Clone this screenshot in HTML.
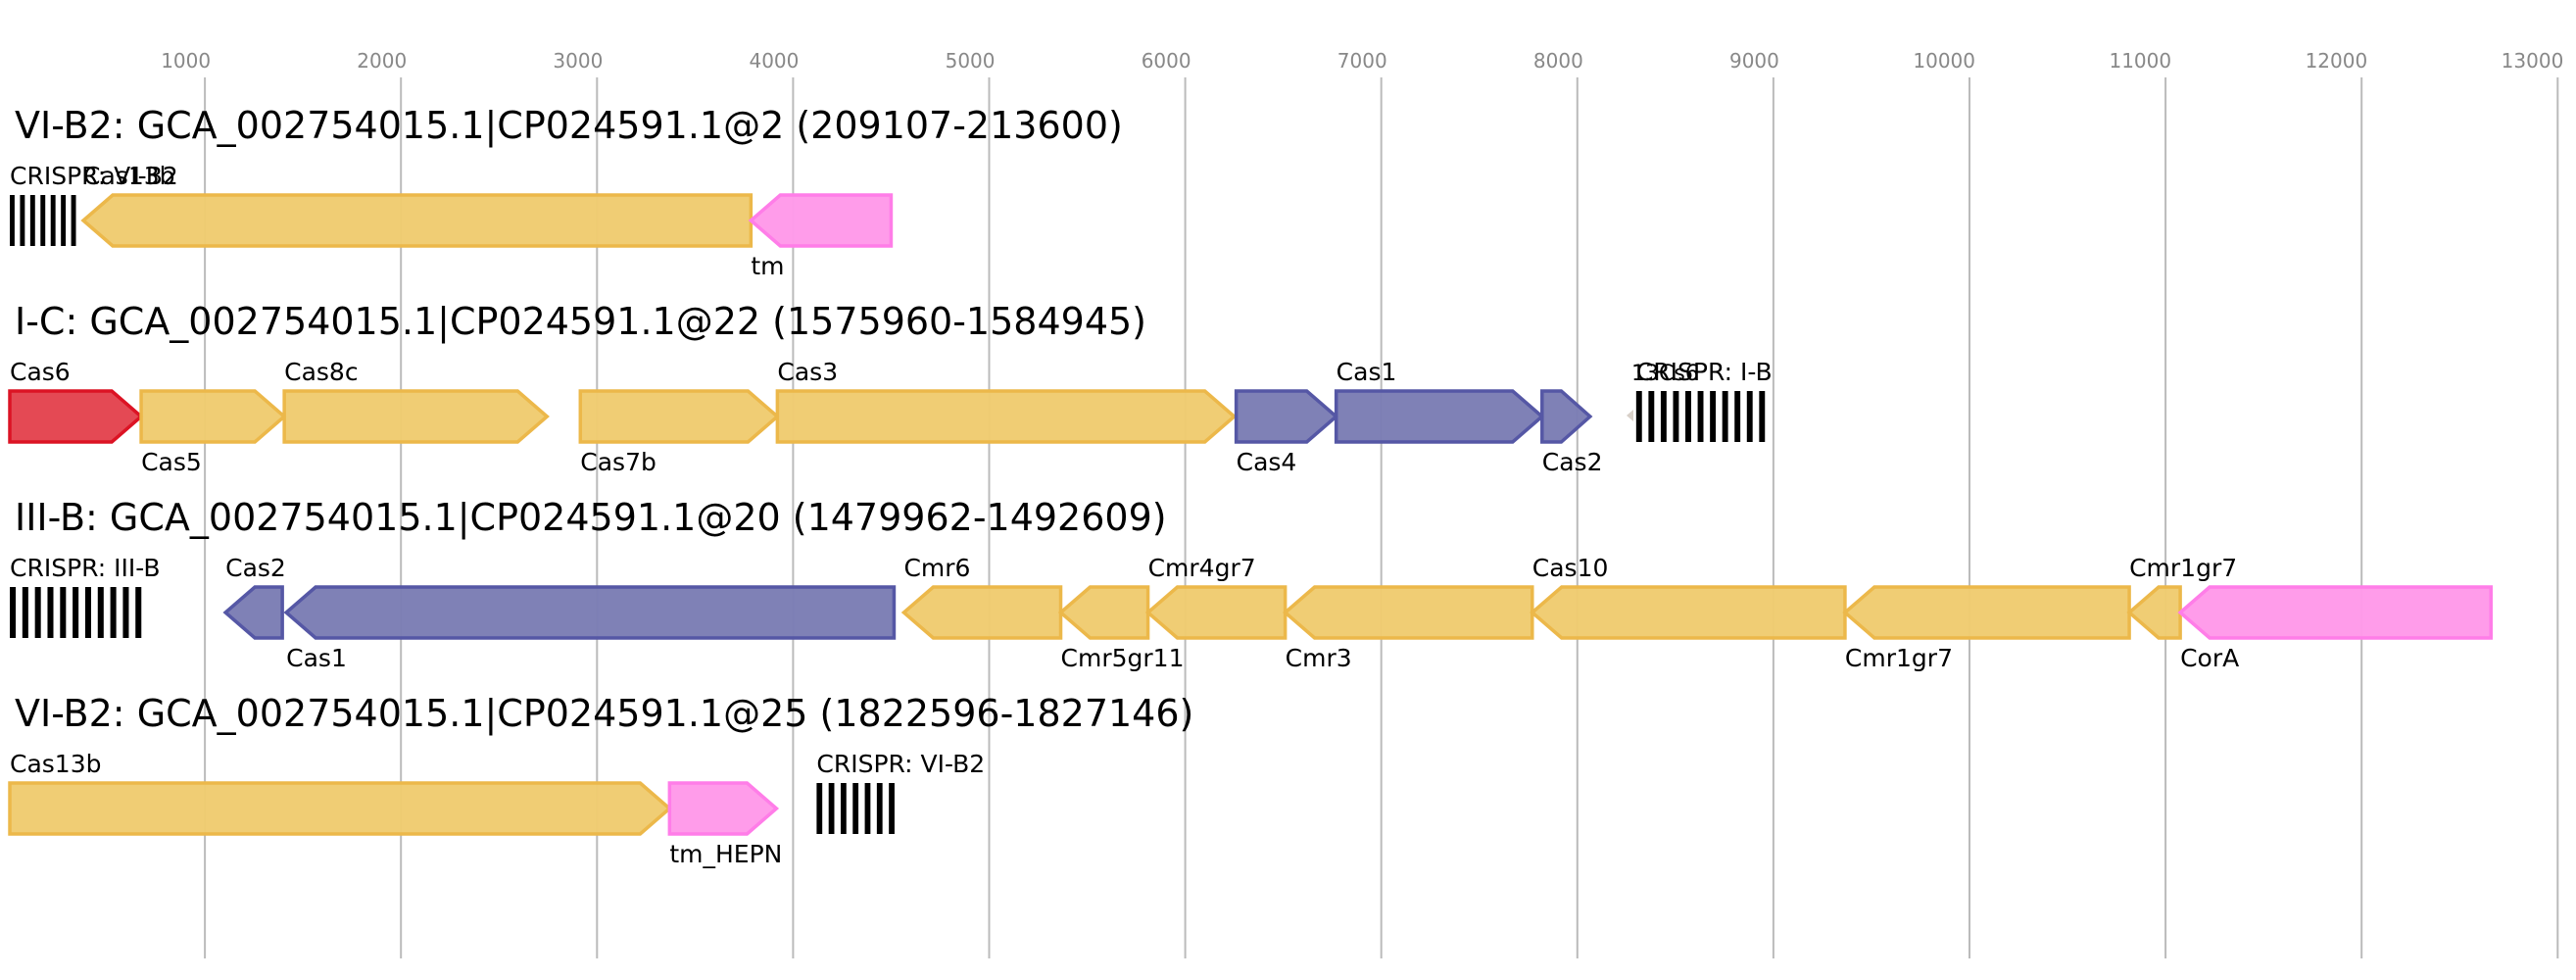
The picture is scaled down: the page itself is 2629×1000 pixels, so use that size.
<!DOCTYPE html>
<html><head><meta charset="utf-8"><style>
html,body{margin:0;padding:0;background:#fff}
svg{display:block;font-family:"DejaVu Sans","Liberation Sans",sans-serif}
</style></head><body>
<svg id="chart" width="2629" height="1000" viewBox="0 0 2629 1000" xmlns="http://www.w3.org/2000/svg"></svg>
<script>
const tickValues=[1000,2000,3000,4000,5000,6000,7000,8000,9000,10000,11000,12000,13000];
const trackTitles=["VI-B2: GCA_002754015.1|CP024591.1@2 (209107-213600)","I-C: GCA_002754015.1|CP024591.1@22 (1575960-1584945)","III-B: GCA_002754015.1|CP024591.1@20 (1479962-1492609)","VI-B2: GCA_002754015.1|CP024591.1@25 (1822596-1827146)"];
// [track, name, start, end, strand(1/-1/0 crispr), colorKey, labelPos(-1 above / 1 below), bars]
const genes=[
[0,"CRISPR: VI-B2",5,370,0,"k",-1,7],
[0,"Cas13b",380,3785,-1,"y",-1,0],
[0,"tm",3785,4500,-1,"p",1,0],
[1,"Cas6",5,675,1,"r",-1,0],
[1,"Cas5",675,1405,1,"y",1,0],
[1,"Cas8c",1405,2745,1,"y",-1,0],
[1,"Cas7b",2915,3920,1,"y",1,0],
[1,"Cas3",3920,6250,1,"y",-1,0],
[1,"Cas4",6260,6770,1,"b",1,0],
[1,"Cas1",6770,7820,1,"b",-1,0],
[1,"Cas2",7820,8065,1,"b",1,0],
[1,"CRISPR: I-B",8300,8990,0,"k",-1,11],
[2,"CRISPR: III-B",5,710,0,"k",-1,11],
[2,"Cas2",1105,1395,-1,"b",-1,0],
[2,"Cas1",1415,4515,-1,"b",1,0],
[2,"Cmr6",4565,5365,-1,"y",-1,0],
[2,"Cmr5gr11",5365,5810,-1,"y",1,0],
[2,"Cmr4gr7",5810,6510,-1,"y",-1,0],
[2,"Cmr3",6510,7770,-1,"y",1,0],
[2,"Cas10",7770,9365,-1,"y",-1,0],
[2,"Cmr1gr7",9365,10815,-1,"y",1,0],
[2,"Cmr1gr7",10815,11075,-1,"y",-1,0],
[2,"CorA",11075,12660,-1,"p",1,0],
[3,"Cas13b",5,3370,1,"y",-1,0],
[3,"tm_HEPN",3370,3915,1,"p",1,0],
[3,"CRISPR: VI-B2",4120,4550,0,"k",-1,7]
];
const colors={y:["#f0cb70","#ecb84a"],p:["#ff99e9","#ff7de8"],b:["#7b7db4","#5557a5"],r:["#e3434e","#dc1324"]};
const NS="http://www.w3.org/2000/svg";
const svg=document.getElementById('chart');
const X=v=>9+v*0.2001;
function el(t,a,p){const e=document.createElementNS(NS,t);for(const k in a)e.setAttribute(k,a[k]);(p||svg).appendChild(e);return e;}
tickValues.forEach(v=>{
  const l=el('line',{x1:X(v),x2:X(v),y1:79,y2:978,stroke:'#bbb','stroke-width':2});
  
  
  const t=el('text',{x:X(v)+6,y:69,'text-anchor':'end','font-size':20,fill:'#888'});
  t.textContent=v;
  
  
});
trackTitles.forEach((s,i)=>{
  const t=el('text',{x:15,y:141+i*200,'font-size':38,fill:'#000'});
  t.textContent=s;
  
  
});
const gm=el('polygon',{points:'1660,424 1667,418 1667,430',fill:'#d8d0c8'});


genes.forEach(g=>{
  const [tr,name,s,e,str,ck,lp,bars]=g;
  const y0=199+tr*200, y1=y0+52, ym=y0+26;
  const x0=X(s), x1=X(e);
  const grp=el('g',{});
  
  
  if(str===0){
    const w=x1-x0, per=w/bars;
    for(let i=0;i<bars;i++){el('rect',{x:x0+i*per,y:y0,width:per*0.47,height:52,fill:'#000'},grp);}
  } else {
    const h=Math.min(30,(x1-x0)*0.6);
    let pts;
    if(str>0) pts=`${x0},${y0} ${x1-h},${y0} ${x1},${ym} ${x1-h},${y1} ${x0},${y1}`;
    else pts=`${x1},${y0} ${x0+h},${y0} ${x0},${ym} ${x0+h},${y1} ${x1},${y1}`;
    el('polygon',{points:pts,fill:colors[ck][0],stroke:colors[ck][1],'stroke-width':3.5,'fill-opacity':0.97},grp);
  }
  const t=el('text',{x:x0,y:lp<0?y0-11:y1+29,'font-size':25,fill:'#000'},grp);
  t.textContent=name;
});
const sm=el('text',{x:1665,y:388,'font-size':22,fill:'#000'});
sm.textContent='13Cs6';


</script>
</body></html>
